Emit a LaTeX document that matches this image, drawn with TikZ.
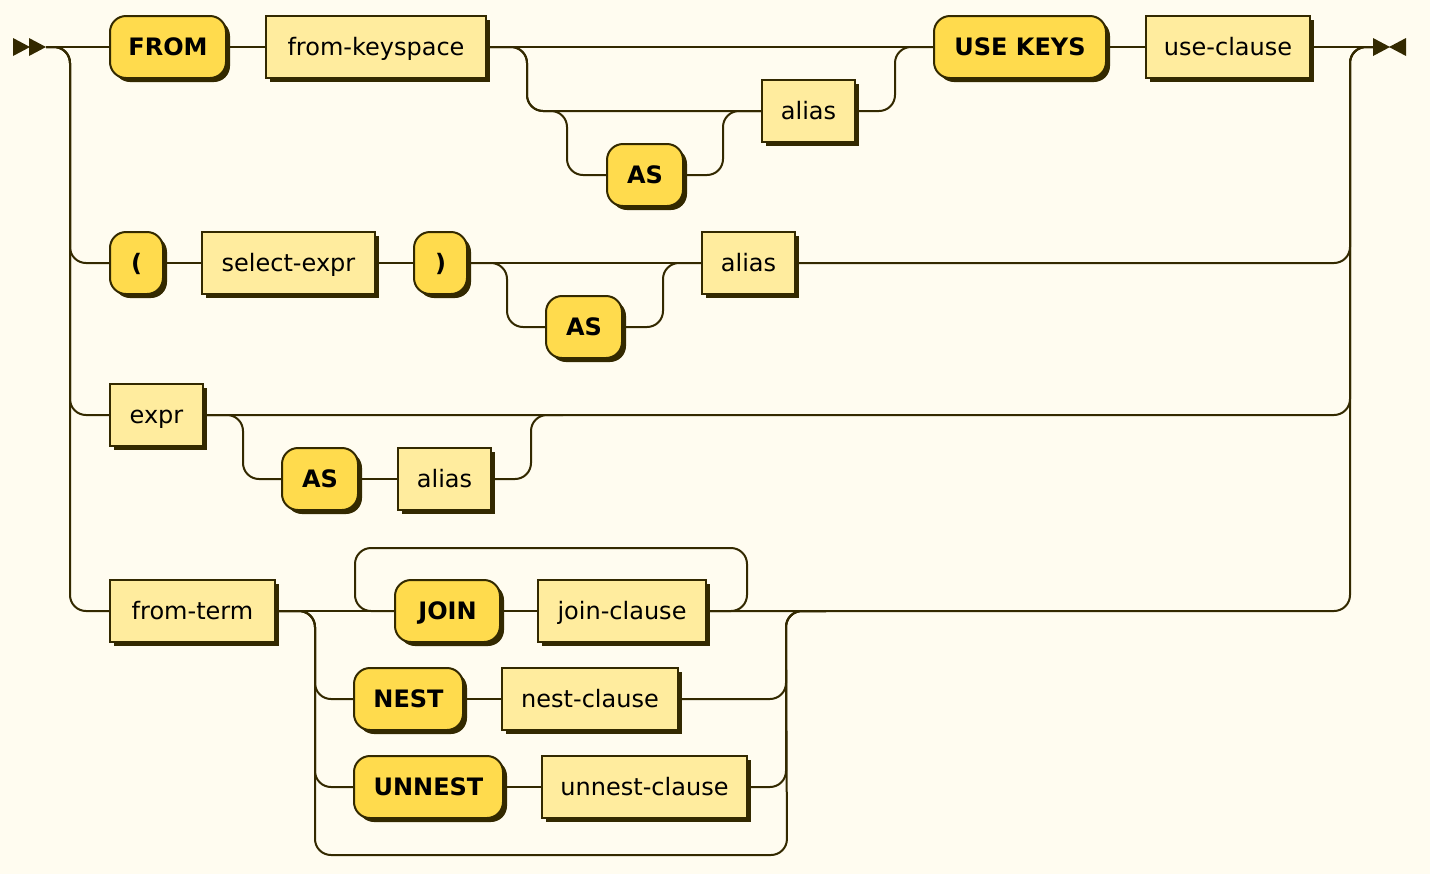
\documentclass[tikz,border=0pt]{standalone}
\usepackage{fontspec}
\setmainfont{DejaVu Sans}
\usetikzlibrary{shadows}
\definecolor{ink}{HTML}{332900}
\definecolor{paper}{HTML}{FFFCF0}
\definecolor{kwfill}{HTML}{FFDB4D}
\definecolor{reffill}{HTML}{FFEC9E}
\tikzset{
  box/.style={draw=ink,line width=1pt,minimum height=31pt,inner sep=0pt,text height=8pt,text depth=0pt,
    font=\fontsize{12}{14}\selectfont,drop shadow={shadow xshift=2pt,shadow yshift=-2pt,fill=ink,opacity=1}},
  term/.style={box,fill=kwfill,rounded corners=8pt,font=\fontsize{12}{14}\selectfont\bfseries},
  nterm/.style={box,fill=reffill},
  wd/.style={minimum width=#1*0.5pt},
  rail/.style={draw=ink,line width=1pt,rounded corners=8pt}
}

\begin{document}
\begin{tikzpicture}[x=0.5pt,y=-0.5pt]
    \fill[paper] (0,0) rectangle (1430,874);
    \useasboundingbox (0,0) rectangle (1430,874);

    \coordinate (in) at (46,47);
    \coordinate (inrail) at (70,47);
    \coordinate (out) at (1373,47);
    \coordinate (outrail) at (1350,47);
    \coordinate (joinrail) at (786,611);

    \node[term,wd=116] (from) at (168,47) {FROM};
    \node[nterm,wd=220] (keyspace) at (376,47) {from-keyspace};
    \node[nterm,wd=93] (alias1) at (808.5,111) {alias};
    \node[term,wd=76] (as1) at (645,175) {AS};
    \node[term,wd=172] (usekeys) at (1020,47) {USE KEYS};
    \node[nterm,wd=164] (useclause) at (1228,47) {use-clause};
    \node[term,wd=53] (lpar) at (136.5,263) {(};
    \node[nterm,wd=173] (selexpr) at (288.5,263) {select-expr};
    \node[term,wd=53] (rpar) at (440.5,263) {)};
    \node[term,wd=76] (as2) at (584,327) {AS};
    \node[nterm,wd=93] (alias2) at (748.5,263) {alias};
    \node[nterm,wd=93] (expr) at (156.5,415) {expr};
    \node[term,wd=76] (as3) at (320,479) {AS};
    \node[nterm,wd=93] (alias3) at (444.5,479) {alias};
    \node[nterm,wd=165] (fromterm) at (192.5,611) {from-term};
    \node[term,wd=105] (join) at (447.5,611) {JOIN};
    \node[nterm,wd=168] (joinclause) at (622,611) {join-clause};
    \node[term,wd=109] (nest) at (408.5,699) {NEST};
    \node[nterm,wd=176] (nestclause) at (590,699) {nest-clause};
    \node[term,wd=149] (unnest) at (428.5,787) {UNNEST};
    \node[nterm,wd=205] (unnestclause) at (644.5,787) {unnest-clause};

    % start and end marks
    \fill[ink] (13,38) -- (30,47) -- (13,56) -- cycle;
    \fill[ink] (29,38) -- (46,47) -- (29,56) -- cycle;
    \fill[ink] (1373,38) -- (1390,47) -- (1373,56) -- cycle;
    \fill[ink] (1406,38) -- (1389,47) -- (1406,56) -- cycle;

    % first row
    \draw[rail] (in) -- (from);
    \draw[rail] (from) -- (keyspace);
    \draw[rail] (keyspace) -- (usekeys);
    \draw[rail] (usekeys) -- (useclause);
    \draw[rail] (useclause) -- (out);
    \draw[rail] (keyspace.east) -- ++(40,0) |- (alias1.west);
    \draw[rail] (keyspace.east) -- ++(40,0) -- ++(0,64) -- ++(40,0) |- (as1.west);
    \draw[rail] (as1.east) -- ++(39,0) |- (alias1.west);
    \draw[rail] (alias1.east) -- ++(39,0) |- (usekeys.west);

    % left rail
    \draw[rail] (in) -- (inrail) |- (lpar.west);
    \draw[rail] (in) -- (inrail) |- (expr.west);
    \draw[rail] (in) -- (inrail) |- (fromterm.west);

    % second row
    \draw[rail] (lpar) -- (selexpr);
    \draw[rail] (selexpr) -- (rpar);
    \draw[rail] (rpar) -- (alias2);
    \draw[rail] (rpar.east) -- ++(39,0) |- (as2.west);
    \draw[rail] (as2.east) -- ++(40,0) |- (alias2.west);
    \draw[rail] (alias2.east) -| (outrail) -- (out);

    % third row
    \draw[rail] (expr.east) -| (outrail) -- (out);
    \draw[rail] (expr.east) -- ++(39,0) |- (as3.west);
    \draw[rail] (as3) -- (alias3);
    \draw[rail] (alias3.east) -- ++(39,0) -- ++(0,-64) -- ++(32,0);

    % fourth row
    \draw[rail] (fromterm) -- (join);
    \draw[rail] (join) -- (joinclause);
    \draw[rail] (joinclause.east) -| (outrail) -- (out);
    \draw[rail] (joinclause.east) -- ++(40,0) |- ++(-392,-63) |- (join.west);
    \draw[rail] (fromterm.east) -- ++(39,0) |- (nest.west);
    \draw[rail] (fromterm.east) -- ++(39,0) |- (unnest.west);
    \draw[rail] (fromterm.east) -- ++(39,0) |- ++(472,244) -- (joinrail) -- ++(40,0);
    \draw[rail] (nest) -- (nestclause);
    \draw[rail] (unnest) -- (unnestclause);
    \draw[rail] (nestclause.east) -| (joinrail) -- ++(40,0);
    \draw[rail] (unnestclause.east) -| (joinrail) -- ++(40,0);
\end{tikzpicture}
\end{document}
